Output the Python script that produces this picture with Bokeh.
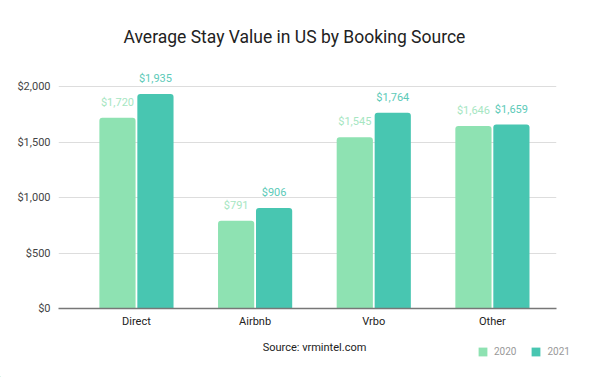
from bokeh.plotting import figure
from bokeh.layouts import column
from bokeh.models import (ColumnDataSource, FixedTicker, Label, Legend, LegendItem,
                          NumeralTickFormatter, Range1d)
from bokeh.core.properties import value
from bokeh.transform import dodge
from bokeh.embed import file_html
from bokeh.resources import INLINE

categories = ["Direct", "Airbnb", "Vrbo", "Other"]
values_2020 = [1720, 791, 1545, 1646]
values_2021 = [1935, 906, 1764, 1659]
y_ticks = [0, 500, 1000, 1500, 2000]
series_names = ["2020", "2021"]

c2020 = "#8ee2b2"
c2021 = "#48c6b1"

idx = list(range(len(categories)))
src = ColumnDataSource(dict(
    x=idx,
    v20=values_2020,
    v21=values_2021,
    l20=["${:,}".format(v) for v in values_2020],
    l21=["${:,}".format(v) for v in values_2021],
))

p = figure(width=590, height=337, output_backend="svg", toolbar_location=None,
           x_range=Range1d(-0.657, 3.54), y_range=Range1d(0, 2200),
           min_border_left=58, min_border_right=34, min_border_top=64, min_border_bottom=29)
p.outline_line_color = None
p.xgrid.grid_line_color = None
p.ygrid.grid_line_color = "#dddddd"
p.yaxis.ticker = FixedTicker(ticks=y_ticks)
p.yaxis.formatter = NumeralTickFormatter(format="$0,0")
p.yaxis.axis_line_color = None
p.yaxis.major_tick_line_color = None
p.yaxis.minor_tick_line_color = None
p.yaxis.major_label_text_font = "Roboto"
p.yaxis.major_label_text_font_size = "11px"
p.yaxis.major_label_text_color = "#444444"
p.yaxis.major_label_standoff = 2
p.xaxis.ticker = FixedTicker(ticks=idx)
p.xaxis.major_label_overrides = {i: c for i, c in zip(idx, categories)}
p.xaxis.axis_line_color = "#777777"
p.xaxis.axis_line_width = 1.5
p.xaxis.major_tick_line_color = None
p.xaxis.minor_tick_line_color = None
p.xaxis.major_label_text_font = "Roboto"
p.xaxis.major_label_text_font_size = "11px"
p.xaxis.major_label_text_color = "#222222"
p.xaxis.major_label_standoff = 0

p.title.text = "Average Stay Value in US by Booking Source"
p.title.align = "left"
p.title.offset = 65
p.title.text_font = "Roboto"
p.title.text_font_style = "normal"
p.title.text_font_size = "17.5px"
p.title.text_color = "#222222"
p.title.standoff = 36

w = 0.305
p.vbar(x=dodge("x", -0.16), top="v20", width=w, source=src,
       fill_color=c2020, line_color=None, border_radius=(3, 3, 0, 0))
p.vbar(x=dodge("x", 0.16), top="v21", width=w, source=src,
       fill_color=c2021, line_color=None, border_radius=(3, 3, 0, 0))

p.text(x=dodge("x", -0.16), y="v20", text="l20", source=src,
       text_align="center", text_baseline="bottom", y_offset=-9,
       text_font=value("Roboto"), text_font_size="11px", text_color="#a6e6c2")
p.text(x=dodge("x", 0.16), y="v21", text="l21", source=src,
       text_align="center", text_baseline="bottom", y_offset=-9,
       text_font=value("Roboto"), text_font_size="11px", text_color="#5ccab8")

# bottom strip: source note + legend
b = figure(width=590, height=40, output_backend="svg", toolbar_location=None,
           x_range=Range1d(0, 590), y_range=Range1d(0, 40),
           min_border=0, x_axis_type=None, y_axis_type=None)
b.outline_line_color = None
b.grid.visible = False

if "frame_align" in b.properties():
    b.frame_align = False
    x0 = 0
else:
    x0 = 72  # frame aligned with main chart: shift so the legend stays inside

g20 = b.vbar(x=[-1000], top=[1], width=1, fill_color=c2020, line_color=None)
g21 = b.vbar(x=[-1000], top=[1], width=1, fill_color=c2021, line_color=None)

b.add_layout(Label(x=314 - (58 if x0 else 0), y=30, x_units="screen", y_units="screen",
                   text="Source: vrmintel.com", text_align="center",
                   text_baseline="middle", text_font="Roboto", text_font_size="11px",
                   text_color="#222222"))

legend = Legend(items=[LegendItem(label=series_names[0], renderers=[g20]),
                       LegendItem(label=series_names[1], renderers=[g21])],
                orientation="horizontal", location=(477 - x0, 20),
                label_text_font="Roboto", label_text_font_size="10px",
                label_text_color="#999999", glyph_width=11, glyph_height=11,
                label_standoff=6, spacing=14, padding=4, margin=0,
                background_fill_alpha=0, border_line_color=None)
b.add_layout(legend, "center")

layout = column(p, b, spacing=0)
open("out.html", "w").write(file_html(layout, INLINE))
